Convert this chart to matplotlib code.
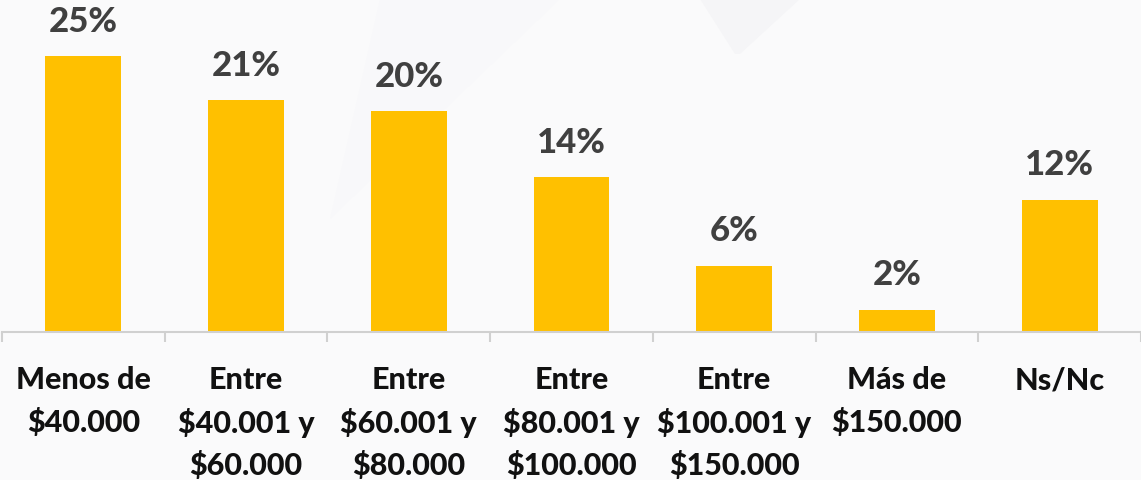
import matplotlib
matplotlib.use("Agg")
import matplotlib.pyplot as plt
import numpy as np

categories = ["Menos de\n$40.000", "Entre\n$40.001 y\n$60.000", "Entre\n$60.001 y\n$80.000",
              "Entre\n$80.001 y\n$100.000", "Entre\n$100.001 y\n$150.000", "Más de\n$150.000", "Ns/Nc"]
values = [25, 21, 20, 14, 6, 2, 12]
labels = ["25%", "21%", "20%", "14%", "6%", "2%", "12%"]

W, H = 1141, 481
fig = plt.figure(figsize=(W / 100, H / 100), dpi=100)
fig.patch.set_facecolor("#FAFAFB")

# faint decorative background shapes
bg = fig.add_axes([0, 0, 1, 1], zorder=0)
bg.set_xlim(0, W); bg.set_ylim(H, 0); bg.axis("off")
bg.fill([700, 800, 740, 735], [0, 0, 55, 55], color="#F5F5F7", lw=0)
bg.fill([380, 560, 330], [0, 0, 220], color="#F8F8FA", lw=0)

ax = fig.add_axes([2 / W, (H - 333) / H, (W - 2) / W, 333 / H], zorder=1)
ax.patch.set_alpha(0)
x = np.arange(len(values))
ax.bar(x, values, width=0.466, color="#FFC000")
ax.set_xlim(-0.5, len(values) - 0.5)
ax.set_ylim(0, 333 / 11.04)

for xi, v, lab in zip(x, values, labels):
    ax.annotate(lab, (xi, v), xytext=(0, 14), textcoords="offset points",
                ha="center", va="bottom", fontsize=25, fontweight=900,
                color="#404040", family="Lato")

for s in ["top", "right", "left"]:
    ax.spines[s].set_visible(False)
ax.spines["bottom"].set_color("#D0D0D0")
ax.spines["bottom"].set_linewidth(1.5)
ax.set_yticks([])
ax.set_xticks(x)
ax.set_xticklabels(categories, fontsize=22, fontweight=900, family="Lato",
                   color="#111111", linespacing=1.55, va="top")
ax.tick_params(axis="x", which="major", length=0, pad=24)
ax.set_xticks(np.arange(-0.5, len(values)), minor=True)
ax.tick_params(axis="x", which="minor", length=7, width=1.5, color="#D0D0D0")

fig.savefig("out.png", dpi=100, facecolor=fig.get_facecolor())
